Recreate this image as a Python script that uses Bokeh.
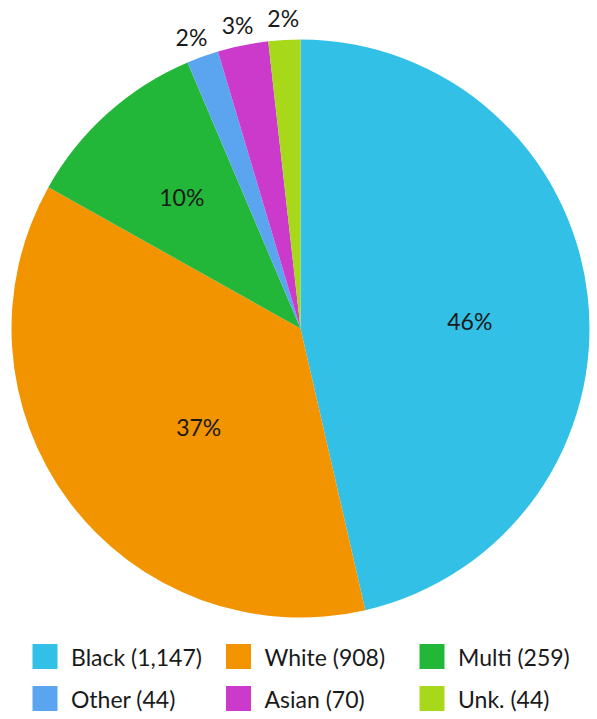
import numpy as np
from bokeh.plotting import figure
from bokeh.models import Range1d, ColumnDataSource
from bokeh.core.properties import value
from bokeh.embed import file_html
from bokeh.resources import INLINE

categories = ["Black", "White", "Multi", "Other", "Asian", "Unk."]
counts = [1147, 908, 259, 44, 70, 44]
colors = ["#33C0E6", "#F29400", "#22B738", "#5BA5F0", "#CC3ACC", "#A8D81A"]
# label nudges in screen pixels (style only)
label_dx = [-3, 37, -3, -4, -1, 0]
label_dy = [12, -5, -2, 0, 0, -1]

W, H = 597, 719
FONT = "Lato"
cx, cy, R = 300, 719 - 328, 289

p = figure(width=W, height=H, x_range=Range1d(0, W), y_range=Range1d(0, H),
           x_axis_type=None, y_axis_type=None, toolbar_location=None,
           output_backend="svg", min_border=0, outline_line_color=None)
p.grid.visible = False

vals = np.array(counts, dtype=float)
frac = vals / vals.sum()
cum = np.concatenate([[0], np.cumsum(frac)])
start = np.pi / 2 - 2 * np.pi * cum[:-1]
end = np.pi / 2 - 2 * np.pi * cum[1:]
mid = (start + end) / 2

src = ColumnDataSource(dict(start=start, end=end, color=colors))
p.wedge(x=cx, y=cy, radius=R, start_angle="start", end_angle="end",
        direction="clock", fill_color="color", line_color=None, source=src)

pct = [f"{round(f * 100):.0f}%" for f in frac]
inside = frac > 0.05
rr = np.where(inside, 0.6 * R, R + 21)
lsrc = ColumnDataSource(dict(x=cx + rr * np.cos(mid), y=cy + rr * np.sin(mid),
                             text=pct, dx=label_dx, dy=label_dy))
p.text(x="x", y="y", text="text", x_offset="dx", y_offset="dy", source=lsrc,
       text_font=value(FONT), text_font_size="23px",
       text_align="center", text_baseline="middle", text_color="#1a1a1a")

# legend
idx = np.arange(len(categories))
col = idx % 3
row = idx // 3
sx = 44.5 + col * 193.5
sy = 719 - (656 + row * 42)
p.rect(x=sx, y=sy, width=25, height=25, fill_color=colors, line_color=None)
labels = [f"{c} ({n:,})" for c, n in zip(categories, counts)]
p.text(x=sx + 26, y=sy, text=labels, text_font=value(FONT), text_font_size="23px",
       text_align="left", text_baseline="middle", text_color="#1a1a1a")

open("out.html", "w").write(file_html(p, INLINE))
